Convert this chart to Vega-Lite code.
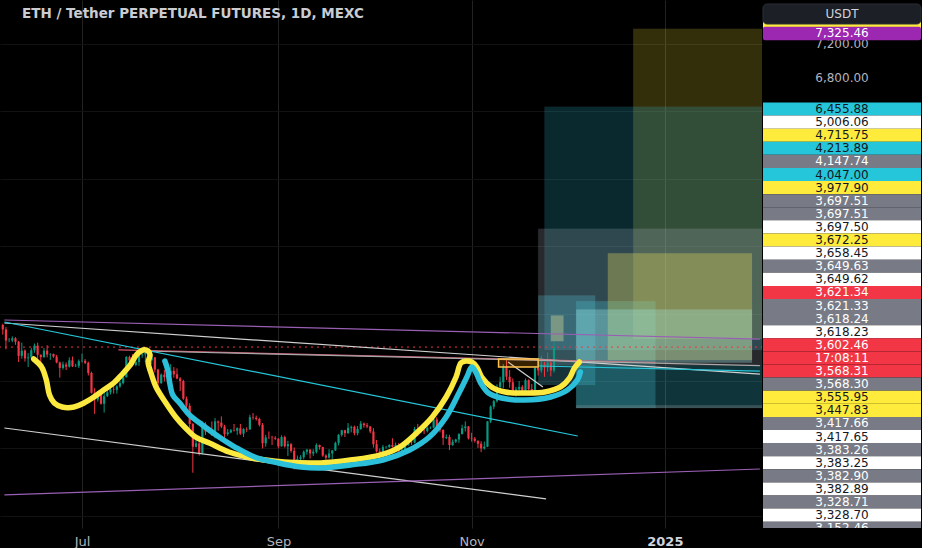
{
"$schema":"https://vega.github.io/schema/vega-lite/v6.json",
"background":"#000000",
"padding":0,
"spacing":0,
"config":{"view":{"stroke":null},"concat":{"spacing":0},"font":"DejaVu Sans"},
"datasets":{
"candles":[
{"t":"2024-06-06","o":3865,"h":3880,"l":3750,"c":3812},
{"t":"2024-06-07","o":3812,"h":3840,"l":3575,"c":3680},
{"t":"2024-06-08","o":3680,"h":3710,"l":3660,"c":3681},
{"t":"2024-06-09","o":3681,"h":3730,"l":3660,"c":3706},
{"t":"2024-06-10","o":3706,"h":3720,"l":3630,"c":3667},
{"t":"2024-06-11","o":3667,"h":3675,"l":3425,"c":3498},
{"t":"2024-06-12","o":3498,"h":3655,"l":3465,"c":3560},
{"t":"2024-06-13","o":3560,"h":3575,"l":3430,"c":3469},
{"t":"2024-06-14","o":3469,"h":3530,"l":3365,"c":3480},
{"t":"2024-06-15","o":3480,"h":3590,"l":3470,"c":3565},
{"t":"2024-06-16","o":3565,"h":3645,"l":3535,"c":3620},
{"t":"2024-06-17","o":3620,"h":3655,"l":3465,"c":3511},
{"t":"2024-06-18","o":3511,"h":3515,"l":3360,"c":3483},
{"t":"2024-06-19","o":3483,"h":3590,"l":3475,"c":3560},
{"t":"2024-06-20","o":3560,"h":3625,"l":3480,"c":3515},
{"t":"2024-06-21","o":3515,"h":3530,"l":3450,"c":3520},
{"t":"2024-06-22","o":3520,"h":3525,"l":3475,"c":3490},
{"t":"2024-06-23","o":3490,"h":3510,"l":3410,"c":3420},
{"t":"2024-06-24","o":3420,"h":3430,"l":3240,"c":3355},
{"t":"2024-06-25","o":3355,"h":3430,"l":3335,"c":3395},
{"t":"2024-06-26","o":3395,"h":3420,"l":3330,"c":3370},
{"t":"2024-06-27","o":3370,"h":3480,"l":3360,"c":3445},
{"t":"2024-06-28","o":3445,"h":3490,"l":3365,"c":3375},
{"t":"2024-06-29","o":3375,"h":3405,"l":3365,"c":3380},
{"t":"2024-06-30","o":3380,"h":3455,"l":3355,"c":3435},
{"t":"2024-07-01","o":3435,"h":3525,"l":3420,"c":3440},
{"t":"2024-07-02","o":3440,"h":3460,"l":3400,"c":3415},
{"t":"2024-07-03","o":3415,"h":3430,"l":3265,"c":3295},
{"t":"2024-07-04","o":3295,"h":3310,"l":3050,"c":3060},
{"t":"2024-07-05","o":3060,"h":3115,"l":2810,"c":2980},
{"t":"2024-07-06","o":2980,"h":3075,"l":2955,"c":3065},
{"t":"2024-07-07","o":3065,"h":3085,"l":2920,"c":2930},
{"t":"2024-07-08","o":2930,"h":3100,"l":2825,"c":3020},
{"t":"2024-07-09","o":3020,"h":3100,"l":3010,"c":3065},
{"t":"2024-07-10","o":3065,"h":3140,"l":3040,"c":3100},
{"t":"2024-07-11","o":3100,"h":3215,"l":3050,"c":3095},
{"t":"2024-07-12","o":3095,"h":3150,"l":3050,"c":3135},
{"t":"2024-07-13","o":3135,"h":3200,"l":3120,"c":3175},
{"t":"2024-07-14","o":3175,"h":3270,"l":3160,"c":3245},
{"t":"2024-07-15","o":3245,"h":3495,"l":3240,"c":3485},
{"t":"2024-07-16","o":3485,"h":3500,"l":3345,"c":3445},
{"t":"2024-07-17","o":3445,"h":3520,"l":3375,"c":3390},
{"t":"2024-07-18","o":3390,"h":3490,"l":3375,"c":3425},
{"t":"2024-07-19","o":3425,"h":3545,"l":3380,"c":3505},
{"t":"2024-07-20","o":3505,"h":3530,"l":3475,"c":3515},
{"t":"2024-07-21","o":3515,"h":3545,"l":3425,"c":3535},
{"t":"2024-07-22","o":3535,"h":3560,"l":3420,"c":3445},
{"t":"2024-07-23","o":3445,"h":3540,"l":3400,"c":3480},
{"t":"2024-07-24","o":3480,"h":3485,"l":3300,"c":3335},
{"t":"2024-07-25","o":3335,"h":3345,"l":3090,"c":3175},
{"t":"2024-07-26","o":3175,"h":3290,"l":3165,"c":3275},
{"t":"2024-07-27","o":3275,"h":3330,"l":3195,"c":3245},
{"t":"2024-07-28","o":3245,"h":3275,"l":3190,"c":3270},
{"t":"2024-07-29","o":3270,"h":3400,"l":3260,"c":3320},
{"t":"2024-07-30","o":3320,"h":3365,"l":3240,"c":3280},
{"t":"2024-07-31","o":3280,"h":3350,"l":3220,"c":3230},
{"t":"2024-08-01","o":3230,"h":3245,"l":3080,"c":3200},
{"t":"2024-08-02","o":3200,"h":3215,"l":2975,"c":2990},
{"t":"2024-08-03","o":2990,"h":3015,"l":2855,"c":2905},
{"t":"2024-08-04","o":2905,"h":2935,"l":2630,"c":2690},
{"t":"2024-08-05","o":2690,"h":2700,"l":2111,"c":2420},
{"t":"2024-08-06","o":2420,"h":2555,"l":2410,"c":2460},
{"t":"2024-08-07","o":2460,"h":2550,"l":2315,"c":2345},
{"t":"2024-08-08","o":2345,"h":2720,"l":2330,"c":2685},
{"t":"2024-08-09","o":2685,"h":2710,"l":2560,"c":2600},
{"t":"2024-08-10","o":2600,"h":2645,"l":2580,"c":2610},
{"t":"2024-08-11","o":2610,"h":2720,"l":2550,"c":2555},
{"t":"2024-08-12","o":2555,"h":2760,"l":2520,"c":2720},
{"t":"2024-08-13","o":2720,"h":2730,"l":2610,"c":2705},
{"t":"2024-08-14","o":2705,"h":2780,"l":2640,"c":2660},
{"t":"2024-08-15","o":2660,"h":2680,"l":2520,"c":2570},
{"t":"2024-08-16","o":2570,"h":2630,"l":2550,"c":2590},
{"t":"2024-08-17","o":2590,"h":2630,"l":2580,"c":2615},
{"t":"2024-08-18","o":2615,"h":2690,"l":2600,"c":2610},
{"t":"2024-08-19","o":2610,"h":2650,"l":2560,"c":2640},
{"t":"2024-08-20","o":2640,"h":2690,"l":2560,"c":2575},
{"t":"2024-08-21","o":2575,"h":2640,"l":2535,"c":2630},
{"t":"2024-08-22","o":2630,"h":2650,"l":2595,"c":2625},
{"t":"2024-08-23","o":2625,"h":2800,"l":2620,"c":2770},
{"t":"2024-08-24","o":2770,"h":2820,"l":2740,"c":2765},
{"t":"2024-08-25","o":2765,"h":2790,"l":2730,"c":2750},
{"t":"2024-08-26","o":2750,"h":2765,"l":2660,"c":2680},
{"t":"2024-08-27","o":2680,"h":2700,"l":2400,"c":2460},
{"t":"2024-08-28","o":2460,"h":2560,"l":2420,"c":2530},
{"t":"2024-08-29","o":2530,"h":2600,"l":2510,"c":2528},
{"t":"2024-08-30","o":2528,"h":2550,"l":2440,"c":2525},
{"t":"2024-08-31","o":2525,"h":2545,"l":2500,"c":2515},
{"t":"2024-09-01","o":2515,"h":2520,"l":2400,"c":2425},
{"t":"2024-09-02","o":2425,"h":2555,"l":2420,"c":2535},
{"t":"2024-09-03","o":2535,"h":2550,"l":2410,"c":2425},
{"t":"2024-09-04","o":2425,"h":2490,"l":2310,"c":2450},
{"t":"2024-09-05","o":2450,"h":2465,"l":2350,"c":2370},
{"t":"2024-09-06","o":2370,"h":2410,"l":2150,"c":2225},
{"t":"2024-09-07","o":2225,"h":2315,"l":2220,"c":2275},
{"t":"2024-09-08","o":2275,"h":2320,"l":2235,"c":2295},
{"t":"2024-09-09","o":2295,"h":2375,"l":2270,"c":2360},
{"t":"2024-09-10","o":2360,"h":2395,"l":2325,"c":2385},
{"t":"2024-09-11","o":2385,"h":2390,"l":2280,"c":2340},
{"t":"2024-09-12","o":2340,"h":2390,"l":2310,"c":2360},
{"t":"2024-09-13","o":2360,"h":2460,"l":2340,"c":2440},
{"t":"2024-09-14","o":2440,"h":2445,"l":2385,"c":2415},
{"t":"2024-09-15","o":2415,"h":2420,"l":2300,"c":2315},
{"t":"2024-09-16","o":2315,"h":2330,"l":2265,"c":2290},
{"t":"2024-09-17","o":2290,"h":2390,"l":2280,"c":2340},
{"t":"2024-09-18","o":2340,"h":2380,"l":2275,"c":2375},
{"t":"2024-09-19","o":2375,"h":2480,"l":2370,"c":2465},
{"t":"2024-09-20","o":2465,"h":2570,"l":2435,"c":2560},
{"t":"2024-09-21","o":2560,"h":2620,"l":2540,"c":2615},
{"t":"2024-09-22","o":2615,"h":2620,"l":2535,"c":2580},
{"t":"2024-09-23","o":2580,"h":2700,"l":2575,"c":2645},
{"t":"2024-09-24","o":2645,"h":2670,"l":2590,"c":2655},
{"t":"2024-09-25","o":2655,"h":2670,"l":2555,"c":2580},
{"t":"2024-09-26","o":2580,"h":2665,"l":2555,"c":2630},
{"t":"2024-09-27","o":2630,"h":2725,"l":2620,"c":2695},
{"t":"2024-09-28","o":2695,"h":2705,"l":2645,"c":2675},
{"t":"2024-09-29","o":2675,"h":2700,"l":2640,"c":2660},
{"t":"2024-09-30","o":2660,"h":2665,"l":2580,"c":2600},
{"t":"2024-10-01","o":2600,"h":2640,"l":2410,"c":2450},
{"t":"2024-10-02","o":2450,"h":2500,"l":2350,"c":2365},
{"t":"2024-10-03","o":2365,"h":2400,"l":2310,"c":2350},
{"t":"2024-10-04","o":2350,"h":2440,"l":2340,"c":2415},
{"t":"2024-10-05","o":2415,"h":2430,"l":2395,"c":2418},
{"t":"2024-10-06","o":2418,"h":2450,"l":2405,"c":2440},
{"t":"2024-10-07","o":2440,"h":2520,"l":2410,"c":2420},
{"t":"2024-10-08","o":2420,"h":2470,"l":2405,"c":2440},
{"t":"2024-10-09","o":2440,"h":2465,"l":2355,"c":2370},
{"t":"2024-10-10","o":2370,"h":2420,"l":2330,"c":2385},
{"t":"2024-10-11","o":2385,"h":2455,"l":2375,"c":2440},
{"t":"2024-10-12","o":2440,"h":2485,"l":2430,"c":2475},
{"t":"2024-10-13","o":2475,"h":2490,"l":2440,"c":2470},
{"t":"2024-10-14","o":2470,"h":2655,"l":2460,"c":2630},
{"t":"2024-10-15","o":2630,"h":2690,"l":2545,"c":2605},
{"t":"2024-10-16","o":2605,"h":2640,"l":2580,"c":2610},
{"t":"2024-10-17","o":2610,"h":2630,"l":2570,"c":2605},
{"t":"2024-10-18","o":2605,"h":2660,"l":2590,"c":2645},
{"t":"2024-10-19","o":2645,"h":2660,"l":2630,"c":2648},
{"t":"2024-10-20","o":2648,"h":2760,"l":2640,"c":2745},
{"t":"2024-10-21","o":2745,"h":2770,"l":2650,"c":2665},
{"t":"2024-10-22","o":2665,"h":2670,"l":2590,"c":2620},
{"t":"2024-10-23","o":2620,"h":2625,"l":2440,"c":2525},
{"t":"2024-10-24","o":2525,"h":2565,"l":2510,"c":2535},
{"t":"2024-10-25","o":2535,"h":2560,"l":2380,"c":2440},
{"t":"2024-10-26","o":2440,"h":2505,"l":2430,"c":2480},
{"t":"2024-10-27","o":2480,"h":2515,"l":2465,"c":2505},
{"t":"2024-10-28","o":2505,"h":2580,"l":2465,"c":2570},
{"t":"2024-10-29","o":2570,"h":2680,"l":2565,"c":2640},
{"t":"2024-10-30","o":2640,"h":2720,"l":2600,"c":2660},
{"t":"2024-10-31","o":2660,"h":2665,"l":2505,"c":2520},
{"t":"2024-11-01","o":2520,"h":2585,"l":2480,"c":2515},
{"t":"2024-11-02","o":2515,"h":2535,"l":2470,"c":2490},
{"t":"2024-11-03","o":2490,"h":2495,"l":2405,"c":2455},
{"t":"2024-11-04","o":2455,"h":2485,"l":2355,"c":2400},
{"t":"2024-11-05","o":2400,"h":2480,"l":2385,"c":2420},
{"t":"2024-11-06","o":2420,"h":2725,"l":2415,"c":2720},
{"t":"2024-11-07","o":2720,"h":2910,"l":2700,"c":2895},
{"t":"2024-11-08","o":2895,"h":2975,"l":2865,"c":2960},
{"t":"2024-11-09","o":2960,"h":3160,"l":2945,"c":3130},
{"t":"2024-11-10","o":3130,"h":3250,"l":3100,"c":3185},
{"t":"2024-11-11","o":3185,"h":3400,"l":3115,"c":3370},
{"t":"2024-11-12","o":3370,"h":3450,"l":3210,"c":3250},
{"t":"2024-11-13","o":3250,"h":3330,"l":3120,"c":3185},
{"t":"2024-11-14","o":3185,"h":3230,"l":3030,"c":3060},
{"t":"2024-11-15","o":3060,"h":3130,"l":3015,"c":3100},
{"t":"2024-11-16","o":3100,"h":3200,"l":3085,"c":3130},
{"t":"2024-11-17","o":3130,"h":3150,"l":3040,"c":3075},
{"t":"2024-11-18","o":3075,"h":3230,"l":3060,"c":3210},
{"t":"2024-11-19","o":3210,"h":3220,"l":3085,"c":3105},
{"t":"2024-11-20","o":3105,"h":3165,"l":3035,"c":3070},
{"t":"2024-11-21","o":3070,"h":3375,"l":3060,"c":3355},
{"t":"2024-11-22","o":3355,"h":3365,"l":3265,"c":3325},
{"t":"2024-11-23","o":3325,"h":3500,"l":3300,"c":3395},
{"t":"2024-11-24","o":3395,"h":3425,"l":3250,"c":3360},
{"t":"2024-11-25","o":3360,"h":3540,"l":3310,"c":3415},
{"t":"2024-11-26","o":3415,"h":3460,"l":3255,"c":3325},
{"t":"2024-11-27","o":3325,"h":3660,"l":3300,"c":3602.46}
],
"boxes":[
{"k":"r1","t":"2024-12-22","t2":"2025-02-10","p":7380,"p2":3697.51},
{"k":"r2","t":"2024-11-24","t2":"2025-02-10","p":6455.88,"p2":3568.31},
{"k":"r3","t":"2024-11-22","t2":"2025-02-10","p":5006.06,"p2":3383.26},
{"k":"r5","t":"2024-11-22","t2":"2024-12-10","p":4213.89,"p2":3152.46},
{"k":"r6a","t":"2024-12-04","t2":"2024-12-29","p":4147.74,"p2":2878},
{"k":"r6c","t":"2024-12-04","t2":"2025-02-10","p":3383.25,"p2":2878},
{"k":"band1","t":"2024-12-04","t2":"2024-12-29","p":2913,"p2":2878},
{"k":"band2","t":"2024-12-29","t2":"2025-02-10","p":2913,"p2":2878},
{"k":"r4","t":"2024-12-14","t2":"2025-01-28T12:00:00Z","p":4715.75,"p2":3447.83},
{"k":"r6b","t":"2024-12-04","t2":"2025-01-28T12:00:00Z","p":4047,"p2":3417.65},
{"k":"r7","t":"2024-11-26","t2":"2024-11-30","p":3977.9,"p2":3672.25}
],
"handle":[
{"t":"2024-11-09T12:00:00Z","t2":"2024-11-22","p":3461,"p2":3366}
],
"price":[{"t":"2024-06-01","t2":"2025-02-10","p":3602.46}],
"lines":[
{"id":"a","k":"purple","t":"2024-06-06T12:00:00Z","p":3924},
{"id":"a","k":"purple","t":"2025-01-31","p":3697},
{"id":"b","k":"white","t":"2024-06-06T12:00:00Z","p":3888},
{"id":"b","k":"white","t":"2025-01-31","p":3281},
{"id":"c","k":"pink","t":"2024-07-12T12:00:00Z","p":3568.31},
{"id":"c","k":"pink","t":"2024-12-29","p":3417.66},
{"id":"d","k":"grey","t":"2024-07-20","p":3555.95},
{"id":"d","k":"grey","t":"2025-01-31","p":3383.25},
{"id":"e","k":"cyan","t":"2024-06-06T12:00:00Z","p":3900},
{"id":"e","k":"cyan","t":"2024-12-04T12:00:00Z","p":2547},
{"id":"f","k":"cyan","t":"2024-11-22","p":3378},
{"id":"f","k":"cyan","t":"2025-01-31","p":3318},
{"id":"g","k":"white","t":"2024-06-06T12:00:00Z","p":2642},
{"id":"g","k":"white","t":"2024-11-24T12:00:00Z","p":1801},
{"id":"h","k":"purple","t":"2024-06-06T12:00:00Z","p":1847},
{"id":"h","k":"purple","t":"2025-01-31","p":2155},
{"id":"i","k":"white","t":"2024-11-12T12:00:00Z","p":3425},
{"id":"i","k":"white","t":"2024-11-23T12:00:00Z","p":3129}
],
"curves":[
{"k":"yellow","i":1,"t":"2024-06-15T18:00:00Z","p":3461},
{"k":"yellow","i":2,"t":"2024-06-18T06:00:00Z","p":3366},
{"k":"yellow","i":3,"t":"2024-06-19T18:00:00Z","p":3212},
{"k":"yellow","i":4,"t":"2024-06-20T18:00:00Z","p":3034},
{"k":"yellow","i":5,"t":"2024-06-22T06:00:00Z","p":2939},
{"k":"yellow","i":6,"t":"2024-06-24T18:00:00Z","p":2891},
{"k":"yellow","i":7,"t":"2024-06-28T12:00:00Z","p":2891},
{"k":"yellow","i":8,"t":"2024-07-01T15:00:00Z","p":2939},
{"k":"yellow","i":9,"t":"2024-07-04T18:00:00Z","p":3010},
{"k":"yellow","i":10,"t":"2024-07-07T20:00:00Z","p":3093},
{"k":"yellow","i":11,"t":"2024-07-11T00:00:00Z","p":3176},
{"k":"yellow","i":12,"t":"2024-07-13T11:00:00Z","p":3271},
{"k":"yellow","i":13,"t":"2024-07-16T06:00:00Z","p":3390},
{"k":"yellow","i":14,"t":"2024-07-18T03:00:00Z","p":3508},
{"k":"yellow","i":15,"t":"2024-07-20T07:00:00Z","p":3568},
{"k":"yellow","i":16,"t":"2024-07-21T21:00:00Z","p":3556},
{"k":"yellow","i":17,"t":"2024-07-22T12:00:00Z","p":3508},
{"k":"yellow","i":18,"t":"2024-07-21T21:00:00Z","p":3425},
{"k":"yellow","i":19,"t":"2024-07-22T19:00:00Z","p":3295},
{"k":"yellow","i":20,"t":"2024-07-24T09:00:00Z","p":3129},
{"k":"yellow","i":21,"t":"2024-07-27T12:00:00Z","p":2939},
{"k":"yellow","i":22,"t":"2024-07-30T14:00:00Z","p":2773},
{"k":"yellow","i":23,"t":"2024-08-02T17:00:00Z","p":2642},
{"k":"yellow","i":24,"t":"2024-08-05T20:00:00Z","p":2535},
{"k":"yellow","i":25,"t":"2024-08-10T05:00:00Z","p":2464},
{"k":"yellow","i":26,"t":"2024-08-16T10:00:00Z","p":2357},
{"k":"yellow","i":27,"t":"2024-08-23T14:00:00Z","p":2286},
{"k":"yellow","i":28,"t":"2024-09-02T21:00:00Z","p":2238},
{"k":"yellow","i":29,"t":"2024-09-14T09:00:00Z","p":2227},
{"k":"yellow","i":30,"t":"2024-09-23T18:00:00Z","p":2262},
{"k":"yellow","i":31,"t":"2024-10-03T02:00:00Z","p":2321},
{"k":"yellow","i":32,"t":"2024-10-09T07:00:00Z","p":2416},
{"k":"yellow","i":33,"t":"2024-10-14T15:00:00Z","p":2583},
{"k":"yellow","i":34,"t":"2024-10-19T14:00:00Z","p":2773},
{"k":"yellow","i":35,"t":"2024-10-23T23:00:00Z","p":3010},
{"k":"yellow","i":36,"t":"2024-10-27T02:00:00Z","p":3247},
{"k":"yellow","i":37,"t":"2024-10-28T15:00:00Z","p":3414},
{"k":"yellow","i":38,"t":"2024-10-30T04:00:00Z","p":3437},
{"k":"yellow","i":39,"t":"2024-11-01T01:00:00Z","p":3425},
{"k":"yellow","i":40,"t":"2024-11-02T15:00:00Z","p":3366},
{"k":"yellow","i":41,"t":"2024-11-04T04:00:00Z","p":3247},
{"k":"yellow","i":42,"t":"2024-11-07T07:00:00Z","p":3129},
{"k":"yellow","i":43,"t":"2024-11-11T15:00:00Z","p":3069},
{"k":"yellow","i":44,"t":"2024-11-17T21:00:00Z","p":3058},
{"k":"yellow","i":45,"t":"2024-11-24T03:00:00Z","p":3069},
{"k":"yellow","i":46,"t":"2024-11-29T02:00:00Z","p":3129},
{"k":"yellow","i":47,"t":"2024-12-01T21:00:00Z","p":3235},
{"k":"yellow","i":48,"t":"2024-12-03T11:00:00Z","p":3354},
{"k":"yellow","i":49,"t":"2024-12-05T00:00:00Z","p":3425},
{"k":"cyan","i":1,"t":"2024-07-27T04:00:00Z","p":3437},
{"k":"cyan","i":2,"t":"2024-07-28T02:00:00Z","p":3330},
{"k":"cyan","i":3,"t":"2024-07-28T17:00:00Z","p":3176},
{"k":"cyan","i":4,"t":"2024-07-29T16:00:00Z","p":3034},
{"k":"cyan","i":5,"t":"2024-07-31T20:00:00Z","p":2939},
{"k":"cyan","i":6,"t":"2024-08-03T23:00:00Z","p":2796},
{"k":"cyan","i":7,"t":"2024-08-08T00:00:00Z","p":2678},
{"k":"cyan","i":8,"t":"2024-08-13T07:00:00Z","p":2535},
{"k":"cyan","i":9,"t":"2024-08-18T07:00:00Z","p":2416},
{"k":"cyan","i":10,"t":"2024-08-24T12:00:00Z","p":2298},
{"k":"cyan","i":11,"t":"2024-09-01T00:00:00Z","p":2227},
{"k":"cyan","i":12,"t":"2024-09-08T04:00:00Z","p":2179},
{"k":"cyan","i":13,"t":"2024-09-14T09:00:00Z","p":2167},
{"k":"cyan","i":14,"t":"2024-09-23T18:00:00Z","p":2203},
{"k":"cyan","i":15,"t":"2024-10-04T00:00:00Z","p":2262},
{"k":"cyan","i":16,"t":"2024-10-12T10:00:00Z","p":2381},
{"k":"cyan","i":17,"t":"2024-10-18T16:00:00Z","p":2535},
{"k":"cyan","i":18,"t":"2024-10-23T23:00:00Z","p":2773},
{"k":"cyan","i":19,"t":"2024-10-28T00:00:00Z","p":3057},
{"k":"cyan","i":20,"t":"2024-10-30T12:00:00Z","p":3247},
{"k":"cyan","i":21,"t":"2024-11-01T01:00:00Z","p":3366},
{"k":"cyan","i":22,"t":"2024-11-02T07:00:00Z","p":3307},
{"k":"cyan","i":23,"t":"2024-11-03T21:00:00Z","p":3176},
{"k":"cyan","i":24,"t":"2024-11-06T08:00:00Z","p":3057},
{"k":"cyan","i":25,"t":"2024-11-10T10:00:00Z","p":2998},
{"k":"cyan","i":26,"t":"2024-11-17T21:00:00Z","p":2974},
{"k":"cyan","i":27,"t":"2024-11-25T23:00:00Z","p":3010},
{"k":"cyan","i":28,"t":"2024-12-01T06:00:00Z","p":3093},
{"k":"cyan","i":29,"t":"2024-12-04T09:00:00Z","p":3212},
{"k":"cyan","i":30,"t":"2024-12-05T08:00:00Z","p":3307}
],
"plabels":[
{"p":7200,"label":"7,200.00","kind":"axis"},
{"p":6800,"label":"6,800.00","kind":"axis"},
{"p":7400,"label":"","kind":"yellow"},
{"p":7325.46,"label":"7,325.46","kind":"purple"}
],
"ui":[{"p":7556,"label":"USDT"}],
"labels":[
{"slot":0,"label":"6,455.88","kind":"cyan"},
{"slot":1,"label":"5,006.06","kind":"white"},
{"slot":2,"label":"4,715.75","kind":"yellow"},
{"slot":3,"label":"4,213.89","kind":"cyan"},
{"slot":4,"label":"4,147.74","kind":"grey"},
{"slot":5,"label":"4,047.00","kind":"cyan"},
{"slot":6,"label":"3,977.90","kind":"yellow"},
{"slot":7,"label":"3,697.51","kind":"grey"},
{"slot":8,"label":"3,697.51","kind":"grey"},
{"slot":9,"label":"3,697.50","kind":"white"},
{"slot":10,"label":"3,672.25","kind":"yellow"},
{"slot":11,"label":"3,658.45","kind":"white"},
{"slot":12,"label":"3,649.63","kind":"grey"},
{"slot":13,"label":"3,649.62","kind":"white"},
{"slot":14,"label":"3,621.34","kind":"red"},
{"slot":15,"label":"3,621.33","kind":"grey"},
{"slot":16,"label":"3,618.24","kind":"grey"},
{"slot":17,"label":"3,618.23","kind":"white"},
{"slot":18,"label":"3,602.46","kind":"red"},
{"slot":19,"label":"17:08:11","kind":"red"},
{"slot":20,"label":"3,568.31","kind":"red"},
{"slot":21,"label":"3,568.30","kind":"grey"},
{"slot":22,"label":"3,555.95","kind":"yellow"},
{"slot":23,"label":"3,447.83","kind":"yellow"},
{"slot":24,"label":"3,417.66","kind":"grey"},
{"slot":25,"label":"3,417.65","kind":"white"},
{"slot":26,"label":"3,383.26","kind":"grey"},
{"slot":27,"label":"3,383.25","kind":"white"},
{"slot":28,"label":"3,382.90","kind":"grey"},
{"slot":29,"label":"3,382.89","kind":"white"},
{"slot":30,"label":"3,328.71","kind":"grey"},
{"slot":31,"label":"3,328.70","kind":"white"},
{"slot":32,"label":"3,152.46","kind":"grey"}
]
},
"hconcat":[
{
"width":762,"height":528,
"title":{"text":"ETH / Tether PERPETUAL FUTURES, 1D, MEXC","anchor":"start","offset":-20,"dx":22,"fontSize":13.5,"font":"DejaVu Sans","fontWeight":"bold","color":"#c9ccd3"},
"resolve":{"scale":{"color":"independent","opacity":"independent"}},
"encoding":{
"x":{"field":"t","type":"temporal","scale":{"type":"utc","domain":[{"year":2024,"month":6,"date":6,"hours":16,"minutes":48,"utc":true},{"year":2025,"month":1,"date":30,"hours":2,"utc":true}],"nice":false},
"axis":{"values":[1719792000000,1725148800000,1730419200000,1735689600000],"grid":true,"gridColor":"#222222","domain":false,"ticks":false,"labelPadding":7,"title":null,"labelFont":"DejaVu Sans","labelFontSize":13,
"labelColor":{"condition":{"test":"utcmonth(datum.value)===0","value":"#d1d4dc"},"value":"#b2b5be"},
"labelFontWeight":{"condition":{"test":"utcmonth(datum.value)===0","value":"bold"},"value":"normal"},
"labelExpr":"utcmonth(datum.value)===0 ? utcFormat(datum.value,'%Y') : utcFormat(datum.value,'%b')"}}
},
"layer":[
{"data":{"name":"boxes"},"mark":{"type":"rect","clip":true,"stroke":"#ffffff","strokeOpacity":0.12,"strokeWidth":1},
"encoding":{
"x2":{"field":"t2"},
"y":{"field":"p","type":"quantitative","scale":{"domain":[1455,7722],"nice":false,"zero":false},
"axis":{"orient":"right","values":[1600,2000,2400,2800,3200,3600,4000,4400,4800,5200,5600,6000,6400,6800,7200,7600],"grid":true,"gridColor":"#121212","labels":false,"ticks":false,"domain":false,"title":null}},
"y2":{"field":"p2"},
"color":{"field":"k","type":"nominal","legend":null,"scale":{"domain":["r1","r2","r3","r5","r6a","r6c","band1","band2","r4","r6b","r7"],"range":["#ffeb3b","#30c0dd","#afb5c4","#5ad8f0","#4dd0e1","#3cc8e0","#9e9e9e","#9e9e9e","#ffee58","#a5f2ee","#fff59d"]}},
"opacity":{"field":"k","type":"nominal","legend":null,"scale":{"domain":["r1","r2","r3","r5","r6a","r6c","band1","band2","r4","r6b","r7"],"range":[0.2,0.32,0.2,0.3,0.12,0.27,0.55,0.3,0.3,0.3,0.35]}}
}},
{"data":{"name":"candles"},"mark":{"type":"rule","clip":true,"strokeWidth":1},
"encoding":{
"y":{"field":"l","type":"quantitative","scale":{"domain":[1455,7722],"nice":false,"zero":false}},
"y2":{"field":"h"},
"color":{"condition":{"test":"datum.c >= datum.o","value":"#089981"},"value":"#f23645"}
}},
{"data":{"name":"candles"},"mark":{"type":"bar","clip":true,"width":2.2},
"encoding":{
"y":{"field":"o","type":"quantitative","scale":{"domain":[1455,7722],"nice":false,"zero":false}},
"y2":{"field":"c"},
"color":{"condition":{"test":"datum.c >= datum.o","value":"#089981"},"value":"#f23645"}
}},
{"data":{"name":"price"},"mark":{"type":"rule","clip":true,"color":"#f23645","strokeDash":[2,4],"strokeWidth":1},
"encoding":{"x2":{"field":"t2"},"y":{"field":"p","type":"quantitative","scale":{"domain":[1455,7722],"nice":false,"zero":false}}}},
{"data":{"name":"lines"},"mark":{"type":"line","clip":true,"strokeWidth":1.2},
"encoding":{
"y":{"field":"p","type":"quantitative","scale":{"domain":[1455,7722],"nice":false,"zero":false}},
"detail":{"field":"id"},
"color":{"field":"k","type":"nominal","legend":null,"scale":{"domain":["purple","white","pink","grey","cyan"],"range":["#9a5fb4","#d0d0d0","#d0566f","#a8a8a8","#26c6da"]}}
}},
{"data":{"name":"handle"},"mark":{"type":"rect","clip":true,"fill":"#ff9800","fillOpacity":0.22,"stroke":"#ffc24d","strokeWidth":1.5},
"encoding":{
"x2":{"field":"t2"},
"y":{"field":"p","type":"quantitative","scale":{"domain":[1455,7722],"nice":false,"zero":false}},
"y2":{"field":"p2"}
}},
{"data":{"name":"curves"},"mark":{"type":"line","clip":true,"strokeWidth":5.5,"strokeCap":"round","strokeJoin":"round","interpolate":"catmull-rom"},
"encoding":{
"y":{"field":"p","type":"quantitative","scale":{"domain":[1455,7722],"nice":false,"zero":false}},
"detail":{"field":"k"},
"order":{"field":"i","type":"quantitative"},
"color":{"field":"k","type":"nominal","legend":null,"scale":{"domain":["yellow","cyan"],"range":["#fce93f","#2bbfd9"]}}
}}
]
},
{
"width":158,"height":528,
"resolve":{"scale":{"y":"independent","color":"independent"}},
"layer":[
{"data":{"name":"plabels"},"transform":[{"filter":"datum.kind === 'axis'"}],"mark":{"type":"text","fontSize":12,"font":"DejaVu Sans","color":"#b2b5be"},
"encoding":{"y":{"field":"p","type":"quantitative","scale":{"domain":[1455,7722],"nice":false,"zero":false},"axis":null},"text":{"field":"label"}}},
{"data":{"name":"plabels"},"transform":[{"filter":"datum.kind !== 'axis'"}],"mark":{"type":"rect","height":13.5,"cornerRadius":2},
"encoding":{"y":{"field":"p","type":"quantitative","scale":{"domain":[1455,7722],"nice":false,"zero":false},"axis":null},
"color":{"field":"kind","type":"nominal","legend":null,"scale":{"domain":["yellow","purple"],"range":["#ffeb3b","#9c27b0"]}}}},
{"data":{"name":"plabels"},"transform":[{"filter":"datum.kind === 'purple'"}],"mark":{"type":"text","fontSize":12,"font":"DejaVu Sans","color":"#ffffff"},
"encoding":{"y":{"field":"p","type":"quantitative","scale":{"domain":[1455,7722],"nice":false,"zero":false},"axis":null},"text":{"field":"label"}}},
{"data":{"name":"ui"},"mark":{"type":"rect","height":20,"cornerRadius":4,"fill":"#1c1f26","stroke":"#2a2e39"},
"encoding":{"y":{"field":"p","type":"quantitative","scale":{"domain":[1455,7722],"nice":false,"zero":false},"axis":null}}},
{"data":{"name":"ui"},"mark":{"type":"text","fontSize":12,"font":"DejaVu Sans","color":"#d1d4dc"},
"encoding":{"y":{"field":"p","type":"quantitative","scale":{"domain":[1455,7722],"nice":false,"zero":false},"axis":null},"text":{"field":"label"}}},
{"data":{"name":"labels"},"mark":{"type":"rect","height":13.1,"clip":true},
"encoding":{"y":{"field":"slot","type":"quantitative","scale":{"domain":[-8.32,31.98],"reverse":true,"nice":false,"zero":false},"axis":null},
"color":{"field":"kind","type":"nominal","legend":null,"scale":{"domain":["cyan","white","yellow","grey","red"],"range":["#26c6da","#ffffff","#ffeb3b","#787b86","#f23645"]}}}},
{"data":{"name":"labels"},"mark":{"type":"text","fontSize":12,"font":"DejaVu Sans","clip":true},
"encoding":{"y":{"field":"slot","type":"quantitative","scale":{"domain":[-8.32,31.98],"reverse":true,"nice":false,"zero":false},"axis":null},
"text":{"field":"label"},
"color":{"condition":{"test":"indexof(['cyan','white','yellow'], datum.kind) >= 0","value":"#131722"},"value":"#ffffff"}}}
]
}
]
}
